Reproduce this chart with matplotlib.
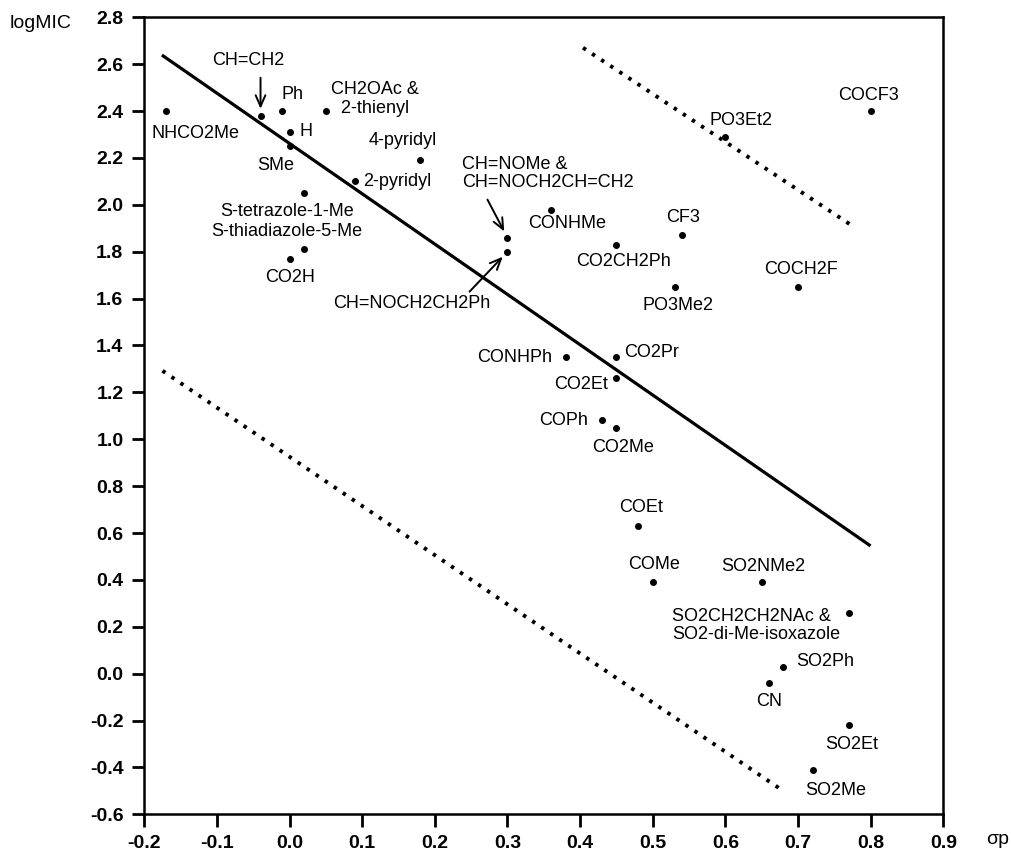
import numpy as np
import matplotlib
matplotlib.use('Agg')
import matplotlib.pyplot as plt

plt.rcParams['font.family'] = ['Liberation Sans', 'DejaVu Sans']
plt.rcParams['axes.unicode_minus'] = False

# substituents, sigma_p and logMIC
labels = ["NHCO2Me", "CH=CH2", "Ph", "H", "SMe", "CH2OAc &\n  2-thienyl",
          "4-pyridyl", "2-pyridyl", "S-tetrazole-1-Me", "S-thiadiazole-5-Me",
          "CO2H", "CH=NOMe &\nCH=NOCH2CH=CH2", "CH=NOCH2CH2Ph", "CONHMe",
          "CO2CH2Ph", "CF3", "PO3Me2", "PO3Et2", "COCF3", "COCH2F", "CONHPh",
          "CO2Pr", "CO2Et", "COPh", "CO2Me", "COEt", "COMe", "SO2NMe2",
          "SO2CH2CH2NAc &\nSO2-di-Me-isoxazole", "SO2Ph", "CN", "SO2Et", "SO2Me"]
sigma_p = [-0.17, -0.04, -0.01, 0.00, 0.00, 0.05, 0.18, 0.09, 0.02, 0.02,
           0.00, 0.30, 0.30, 0.36, 0.45, 0.54, 0.53, 0.60, 0.80, 0.70, 0.38,
           0.45, 0.45, 0.43, 0.45, 0.48, 0.50, 0.65, 0.77, 0.68, 0.66, 0.77, 0.72]
log_mic = [2.40, 2.38, 2.40, 2.31, 2.25, 2.40, 2.19, 2.10, 2.05, 1.81,
           1.77, 1.86, 1.80, 1.98, 1.83, 1.87, 1.65, 2.29, 2.40, 1.65, 1.35,
           1.35, 1.26, 1.08, 1.05, 0.63, 0.39, 0.39, 0.26, 0.03, -0.04, -0.22, -0.41]

# regression line and the two dotted bounds (end points)
fit_x = [-0.174, 0.798]
fit_y = [2.635, 0.549]
upper_x = [0.404, 0.771]
upper_y = [2.670, 1.918]
lower_x = [-0.175, 0.680]
lower_y = [1.292, -0.501]

# label placement: offset in pixels from the dot, horizontal alignment
label_pos = {
    "NHCO2Me": (29, -22, 'center'),
    "CH=CH2": (-12, 55, 'center'),
    "Ph": (10, 17, 'center'),
    "H": (10, 1, 'left'),
    "SMe": (-14, -19, 'center'),
    "CH2OAc &\n  2-thienyl": (5, 12, 'left'),
    "4-pyridyl": (-18, 20, 'center'),
    "2-pyridyl": (8, 0, 'left'),
    "S-tetrazole-1-Me": (-17, -18, 'center'),
    "S-thiadiazole-5-Me": (-17, 18, 'center'),
    "CO2H": (0, -19, 'center'),
    "CH=NOMe &\nCH=NOCH2CH=CH2": (-45, 64, 'left'),
    "CH=NOCH2CH2Ph": (-96, -52, 'center'),
    "CONHMe": (16, -14, 'center'),
    "CO2CH2Ph": (7, -17, 'center'),
    "CF3": (1, 18, 'center'),
    "PO3Me2": (3, -19, 'center'),
    "PO3Et2": (16, 16, 'center'),
    "COCF3": (-2, 16, 'center'),
    "COCH2F": (3, 17, 'center'),
    "CONHPh": (-13, 0, 'right'),
    "CO2Pr": (8, 5, 'left'),
    "CO2Et": (-8, -6, 'right'),
    "COPh": (-14, 0, 'right'),
    "CO2Me": (7, -20, 'center'),
    "COEt": (3, 18, 'center'),
    "COMe": (1, 18, 'center'),
    "SO2NMe2": (2, 16, 'center'),
    "SO2CH2CH2NAc &\nSO2-di-Me-isoxazole": (-177, -13, 'left'),
    "SO2Ph": (13, 5, 'left'),
    "CN": (0, -18, 'center'),
    "SO2Et": (3, -19, 'center'),
    "SO2Me": (23, -21, 'center'),
}

fig = plt.figure(figsize=(10.12, 8.51), dpi=100)
ax = fig.add_axes([0.1426, 0.0431, 0.7895, 0.9366])

ax.plot(sigma_p, log_mic, 'o', color='black', ms=4)
ax.plot(fit_x, fit_y, '-', color='black', lw=2.3)
for xs, ys in [(upper_x, upper_y), (lower_x, lower_y)]:
    ax.plot(xs, ys, color='black', lw=2.8, linestyle=(0, (0.9, 1.9)))

for name, x, y in zip(labels, sigma_p, log_mic):
    dx, dy, ha = label_pos[name]
    ax.annotate(name, xy=(x, y), xytext=(dx, dy), textcoords='offset pixels',
                ha=ha, va='center', fontsize=13, linespacing=1.1)

# arrows pointing at crowded dots
arrow_kw = dict(arrowstyle='->,head_length=0.8,head_width=0.35', lw=1.4, color='black',
                shrinkA=0, shrinkB=5)
for i, tail in [(1, (0, 38)), (11, (-20, 38)), (12, (-38, -40))]:
    ax.annotate('', xy=(sigma_p[i], log_mic[i]), xytext=tail,
                textcoords='offset pixels', arrowprops=arrow_kw)

ax.set_xlim(-0.2, 0.9)
ax.set_ylim(-0.6, 2.8)
xt = np.round(np.arange(-0.2, 0.91, 0.1), 1)
yt = np.round(np.arange(-0.6, 2.81, 0.2), 1)
ax.set_xticks(xt)
ax.set_xticklabels(['%.1f' % v for v in xt])
ax.set_yticks(yt)
ax.set_yticklabels(['%.1f' % v for v in yt])
ax.tick_params(direction='out', length=9, width=2, labelsize=14, pad=6)
for lab in ax.get_xticklabels() + ax.get_yticklabels():
    lab.set_fontweight('bold')
for sp in ax.spines.values():
    sp.set_linewidth(1.8)

fig.text(41 / 1012, 1 - 23 / 851, 'logMIC', ha='center', va='center', fontsize=14)
fig.text(998 / 1012, 1 - 839 / 851, 'σp', ha='center', va='center', fontsize=14)

fig.savefig('out.png', dpi=100)
